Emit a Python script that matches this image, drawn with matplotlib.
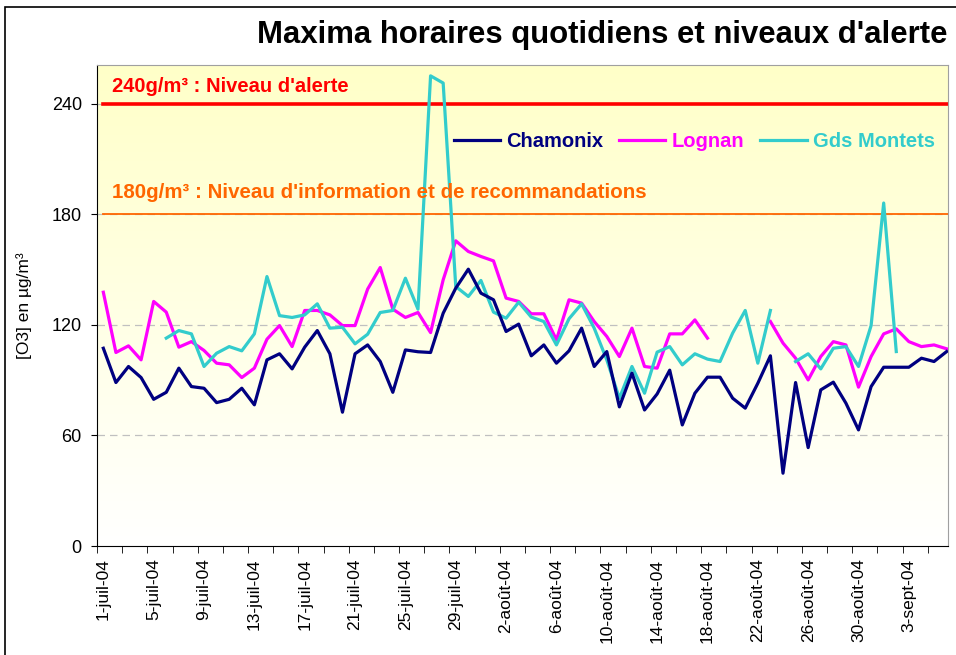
import numpy as np
import matplotlib.pyplot as plt
from matplotlib.patches import Rectangle

nan = np.nan

# jours du 1-juil-04 au 6-sept-04
chamonix = [107.3, 88.7, 97.4, 91.4, 79.6, 83.4, 96.5, 86.5, 85.6, 77.8,
            79.6, 85.6, 76.6, 101.0, 104.3, 96.1, 107.9, 116.9, 104.3, 72.6,
            104.3, 109.1, 100.1, 83.4, 106.4, 105.4, 105.0, 126.3, 139.9, 150.2,
            137.2, 133.6, 116.4, 120.4, 103.2, 109.1, 99.2, 105.9, 118.2, 97.4,
            105.5, 75.5, 93.8, 73.8, 82.5, 95.4, 65.7, 82.9, 91.6, 91.6,
            80.2, 74.8, 88.3, 103.2, 39.5, 88.7, 53.4, 84.7, 88.9, 77.5,
            63.0, 86.5, 97.0, 97.0, 97.0, 101.9, 100.1, 105.5]
lognan = [137.7, 105.0, 108.6, 101.0, 132.7, 126.9, 107.9, 110.9, 106.1, 99.2,
          98.3, 91.4, 96.5, 112.2, 119.6, 108.2, 127.8, 127.8, 125.4, 119.6,
          119.6, 139.4, 151.1, 128.5, 124.0, 126.7, 115.8, 144.4, 165.6, 159.8,
          157.1, 154.7, 134.5, 132.7, 126.0, 126.0, 111.9, 133.6, 131.8, 121.8,
          113.7, 102.8, 118.2, 97.4, 96.5, 115.1, 115.1, 122.7, 112.8, nan,
          nan, nan, nan, 121.8, 110.1, 101.9, 90.1, 102.8, 110.9, 109.1,
          86.2, 102.8, 115.1, 117.8, 110.9, 108.2, 109.1, 107.0]
montets = [nan, nan, nan, nan, nan, 112.8, 116.9, 115.1, 97.4, 104.6,
           108.2, 105.9, 115.1, 146.2, 125.0, 124.0, 125.4, 131.4, 118.2, 118.7,
           109.7, 114.9, 126.7, 127.8, 145.3, 128.5, 255.1, 251.2, 140.8, 135.4,
           144.1, 126.9, 123.6, 132.3, 124.2, 121.8, 109.1, 123.3, 131.4, 118.2,
           101.0, 80.2, 97.4, 82.9, 105.2, 108.2, 98.3, 104.3, 101.4, 100.1,
           115.5, 127.8, 99.2, 127.8, nan, 100.1, 104.3, 96.1, 107.3, 108.2,
           97.4, 119.6, 186.1, 105.5, nan, nan, nan, nan]

date_labels = ["1-juil-04", "5-juil-04", "9-juil-04", "13-juil-04", "17-juil-04",
               "21-juil-04", "25-juil-04", "29-juil-04", "2-août-04", "6-août-04",
               "10-août-04", "14-août-04", "18-août-04", "22-août-04", "26-août-04",
               "30-août-04", "3-sept-04"]

seuil_alerte = 240
seuil_info = 180

plt.rcParams['font.family'] = ['Liberation Sans', 'DejaVu Sans']

fig = plt.figure(figsize=(9.56, 6.55), dpi=100)
ax = fig.add_axes([0.1015, 0.1664, 0.89, 0.7344])

x = np.arange(len(chamonix))

# fond degrade jaune -> blanc
grad = np.linspace(0, 1, 256).reshape(-1, 1)
top = np.array([255, 255, 200]) / 255.0
img = np.ones((256, 1, 3))
for k in range(3):
    img[:, 0, k] = top[k] + (1 - top[k]) * grad[:, 0]
ax.imshow(img, extent=(0, 1, 0, 1), transform=ax.transAxes, aspect='auto', zorder=0)

for yv in [60, 120, 180, 240]:
    ax.axhline(yv, color='#c0c0c0', lw=0.9, ls=(0, (6, 4)), zorder=1)

ax.plot([x[0], x[-1] + 0.1], [seuil_alerte] * 2, color='#ff0000', lw=2.6, zorder=2)
ax.plot([x[0], x[-1] + 0.1], [seuil_info] * 2, color='#ff6600', lw=1.3, zorder=2)

ax.plot(x, chamonix, color='#000080', lw=2.3, label='Chamonix', zorder=4)
ax.plot(x, lognan, color='#ff00ff', lw=2.3, label='Lognan', zorder=3)
ax.plot(x, montets, color='#33cccc', lw=2.3, label='Gds Montets', zorder=3)

ax.text(0.7, 249.5, "240g/m³ : Niveau d'alerte", color='#ff0000',
        fontsize=14.5, fontweight='bold', va='center', zorder=5)
ax.text(0.7, 192, "180g/m³ : Niveau d'information et de recommandations",
        color='#ff6600', fontsize=14.8, fontweight='bold', va='center', zorder=5)

leg = ax.legend(loc='center left', bbox_to_anchor=(0.419, 0.84), ncol=3, frameon=False,
                handlelength=2.3, handletextpad=0.3, columnspacing=0.8,
                borderaxespad=0, borderpad=0,
                prop={'weight': 'bold', 'size': 14.5})
for t, l in zip(leg.get_texts(), leg.get_lines()):
    t.set_color(l.get_color())

ax.set_xlim(-0.35, 67.1)
ax.set_ylim(0, 261)
ax.set_yticks([0, 60, 120, 180, 240])
ax.tick_params(axis='y', labelsize=13, length=4, direction='out', pad=7)

ax.set_xticks(np.arange(0, 65, 4))
ax.set_xticklabels(date_labels, rotation=90, fontsize=12.5)
ax.set_xticks(np.arange(-0.5, 67.5, 2), minor=True)
ax.tick_params(axis='x', which='major', length=0, pad=9)
ax.tick_params(axis='x', which='minor', length=5, direction='out')

ax.set_ylabel("[O3] en µg/m³", fontsize=12.5, labelpad=14)

for s in ['top', 'right']:
    ax.spines[s].set_color('#a0a0a0')
for s in ['left', 'bottom']:
    ax.spines[s].set_color('black')

fig.text(0.9916, 0.946, "Maxima horaires quotidiens et niveaux d'alerte",
         ha='right', va='center', fontsize=22.4, fontweight='bold')

fig.patches.append(Rectangle((5 / 956, -0.1), 1.2, 1.1 - 7 / 655,
                             transform=fig.transFigure, fill=False,
                             edgecolor='black', lw=1.2))

fig.savefig('out.png', dpi=100)
